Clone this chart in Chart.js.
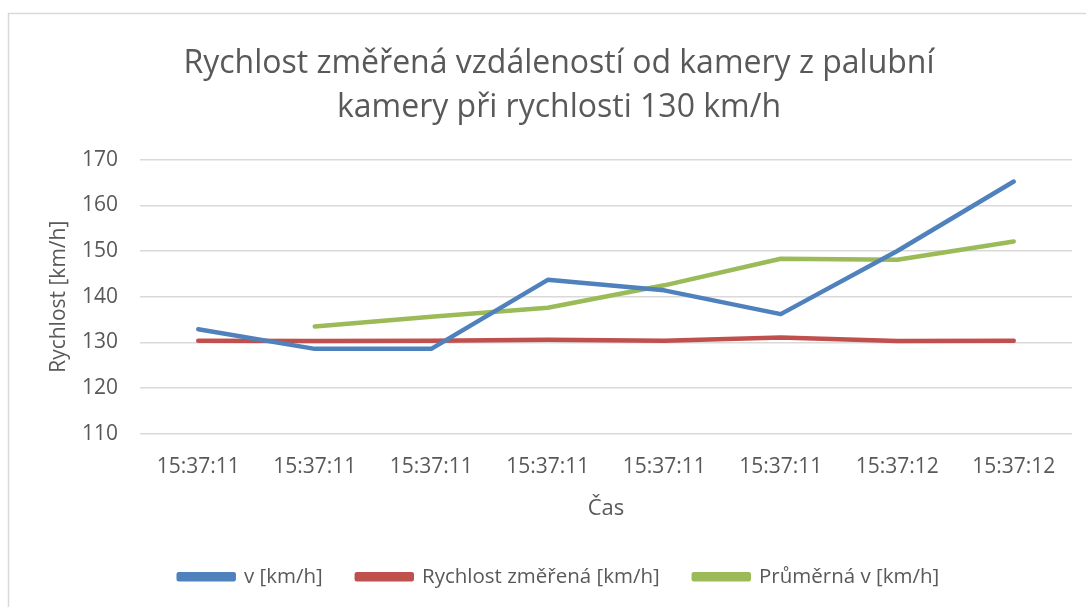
<!DOCTYPE html>
<html>
<head>
<meta charset="utf-8">
<script src="https://cdn.jsdelivr.net/npm/chart.js@4.4.1/dist/chart.umd.min.js"></script>
<style>
html,body{margin:0;padding:0;background:#fff;}
#wrap{position:absolute;left:0;top:0;width:1086px;height:607px;}
</style>
</head>
<body>
<div id="wrap"><canvas id="c" width="1086" height="607"></canvas></div>
<script>
const categories = ["15:37:11","15:37:11","15:37:11","15:37:11","15:37:11","15:37:11","15:37:12","15:37:12"];
const vKmh = [132.9, 128.6, 128.6, 143.7, 141.4, 136.2, 150.0, 165.2];
const rychlostZmerena = [130.4, 130.3, 130.4, 130.6, 130.4, 131.1, 130.3, 130.4];
const prumernaV = [null, 133.5, 135.6, 137.6, 142.5, 148.3, 148.1, 152.1];
const yTicks = [110, 120, 130, 140, 150, 160, 170];

const FONT = "Open Sans";
const borderPlugin = {
  id: 'frame',
  beforeDraw(chart) {
    const ctx = chart.ctx;
    ctx.save();
    ctx.fillStyle = '#fff';
    ctx.fillRect(0, 0, chart.width, chart.height);
    ctx.strokeStyle = '#d9d9d9';
    ctx.lineWidth = 1.5;
    ctx.strokeRect(8.5, 13.5, chart.width + 20, chart.height + 20);
    ctx.restore();
  }
};

new Chart(document.getElementById('c'), {
  type: 'line',
  data: {
    labels: categories,
    datasets: [
      {label: 'v [km/h]', data: vKmh, borderColor: '#4F81BD', backgroundColor: '#4F81BD'},
      {label: 'Rychlost změřená [km/h]', data: rychlostZmerena, borderColor: '#C0504D', backgroundColor: '#C0504D'},
      {label: 'Průměrná v [km/h]', data: prumernaV, borderColor: '#9BBB59', backgroundColor: '#9BBB59'}
    ].map(d => Object.assign(d, {borderWidth: 4.5, pointRadius: 0, tension: 0, borderCapStyle: 'round', borderJoinStyle: 'round', spanGaps: false}))
  },
  options: {
    responsive: false,
    animation: false,
    layout: {padding: {left: 46, right: 14, top: 0, bottom: 10}},
    plugins: {
      title: {
        display: true,
        text: ['Rychlost změřená vzdáleností od kamery z palubní', 'kamery při rychlosti 130 km/h'],
        color: '#595959',
        font: {family: FONT, size: 32, weight: 'normal', lineHeight: 1.4},
        padding: {top: 41, bottom: 29}
      },
      legend: {
        position: 'bottom',
        labels: {
          color: '#595959',
          font: {family: FONT, size: 20.5},
          boxWidth: 55, boxHeight: 5,
          padding: 34
        }
      },
      tooltip: {enabled: false}
    },
    scales: {
      x: {
        offset: true,
        grid: {display: false},
        border: {display: false},
        ticks: {color: '#595959', font: {family: FONT, size: 21}, maxRotation: 0, autoSkip: false, padding: 13},
        title: {display: true, text: 'Čas', color: '#595959', font: {family: FONT, size: 22}, padding: {top: 2, bottom: 11}}
      },
      y: {
        min: 110, max: 170,
        afterBuildTicks(scale) { scale.ticks = yTicks.map(v => ({value: v})); },
        afterFit(scale) { scale.width = 94; },
        grid: {color: '#d9d9d9', lineWidth: 1.5, drawTicks: false},
        border: {display: false},
        ticks: {color: '#595959', font: {family: FONT, size: 21}, padding: 22},
        title: {display: true, text: 'Rychlost [km/h]', color: '#595959', font: {family: FONT, size: 21}, padding: {top: 0, bottom: 0}}
      }
    }
  },
  plugins: [borderPlugin]
});
</script>
</body>
</html>
